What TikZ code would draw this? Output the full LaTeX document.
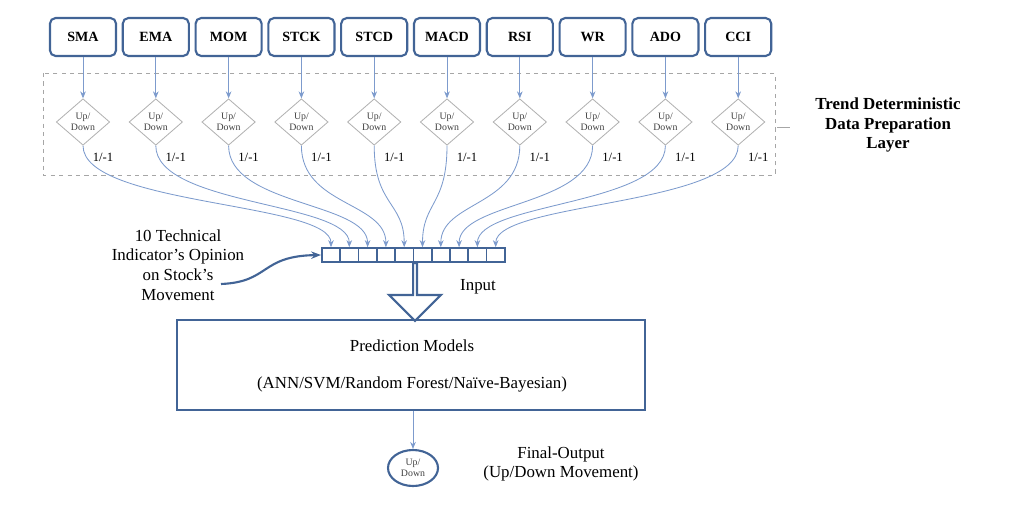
\documentclass[tikz,border=0pt]{standalone}
\usepackage{fontspec}
\setmainfont{Liberation Serif}
\usetikzlibrary{arrows.meta}
\usetikzlibrary{calc}
\usetikzlibrary{shapes.geometric}
\usetikzlibrary{shapes.arrows}
\definecolor{boxblue}{RGB}{66,100,150}
\definecolor{lineblue}{RGB}{125,155,205}
\tikzstyle{feed}=[->,>={Stealth[length=5pt,width=4pt]},line width=0.6pt,color=lineblue]

\begin{document}
\begin{tikzpicture}[x=0.025cm,y=-0.025cm]
    % estilos dos elementos
    \tikzstyle{ind}=[draw=boxblue,line width=1.5pt,rounded corners=4pt,minimum width=47pt,minimum height=27pt,inner sep=1pt,font=\bfseries]
    \tikzstyle{dec}=[draw=gray!60,diamond,line width=0.6pt,minimum width=38pt,minimum height=33pt,inner sep=0pt,align=center,font=\scriptsize,text=black!75]
    \tikzstyle{cell}=[draw=boxblue,line width=1.2pt,minimum width=18.3*0.025cm,minimum height=14*0.025cm,inner sep=0pt]
    \useasboundingbox (0,0) rectangle (1024,512);

    % camada de preparação
    \draw[dashed,gray!70,line width=0.6pt] (43,73) rectangle (775,175);
    \draw[gray!70,line width=0.6pt] (777,127) -- (790,127);
    \node[align=center,font=\large\bfseries] (layer) at (888,125) {Trend Deterministic\\Data Preparation\\Layer};

    \foreach \n [count=\i] in {SMA,EMA,MOM,STCK,STCD,MACD,RSI,WR,ADO,CCI} {
        \node[ind] (ind\i) at ({83+72.8*(\i-1)},37) {\n};
        \node[dec] (dec\i) at ({83+72.8*(\i-1)},122) {Up/\\Down};
        \node[font=\small] (val\i) at ({103+72.8*(\i-1)},157) {1/-1};
        \node[cell] (cell\i) at ({331+18.3*(\i-1)},255) {};
        \draw[feed] (ind\i) -- (dec\i);
    }
    \foreach \i in {1,...,10} {
        \draw[feed] (dec\i.south) .. controls ($(dec\i.south)+(0,60)$) and ($(cell\i.north)+(0,-45)$) .. (cell\i.north);
    }

    % seta de entrada
    \node[single arrow,draw=boxblue,line width=1.5pt,shape border rotate=270,minimum width=52*0.025cm,single arrow head extend=13*0.025cm,single arrow tip angle=90,minimum height=58*0.025cm,inner sep=0pt] (inarrow) at (415,291) {};
    \node[font=\large] (input) at (478,287) {Input};

    \node[align=center,font=\large] (opinion) at (178,265) {10 Technical\\Indicator's Opinion\\on Stock's\\Movement};
    \draw[->,>={Stealth[length=7pt]},draw=boxblue,line width=1.5pt] (221,284) .. controls (270,282) and (260,256) .. (cell1.west);

    % modelos
    \node[draw=boxblue,line width=1.5pt,minimum width=468*0.025cm,minimum height=90*0.025cm] (models) at (411,365) {};
    \node[font=\large] (mtitle) at (412,346) {Prediction Models};
    \node[font=\large] (mlist) at (412,384) {(ANN/SVM/Random Forest/Naïve-Bayesian)};

    \node[draw=boxblue,ellipse,line width=1.5pt,minimum width=50*0.025cm,minimum height=36*0.025cm,inner sep=0pt,align=center,font=\scriptsize,text=black!75] (out) at (413,468) {Up/\\Down};
    \draw[feed] (models.south -| out) -- (out);
    \node[align=center,font=\large] (final) at (561,464) {Final-Output\\(Up/Down Movement)};
\end{tikzpicture}
\end{document}
